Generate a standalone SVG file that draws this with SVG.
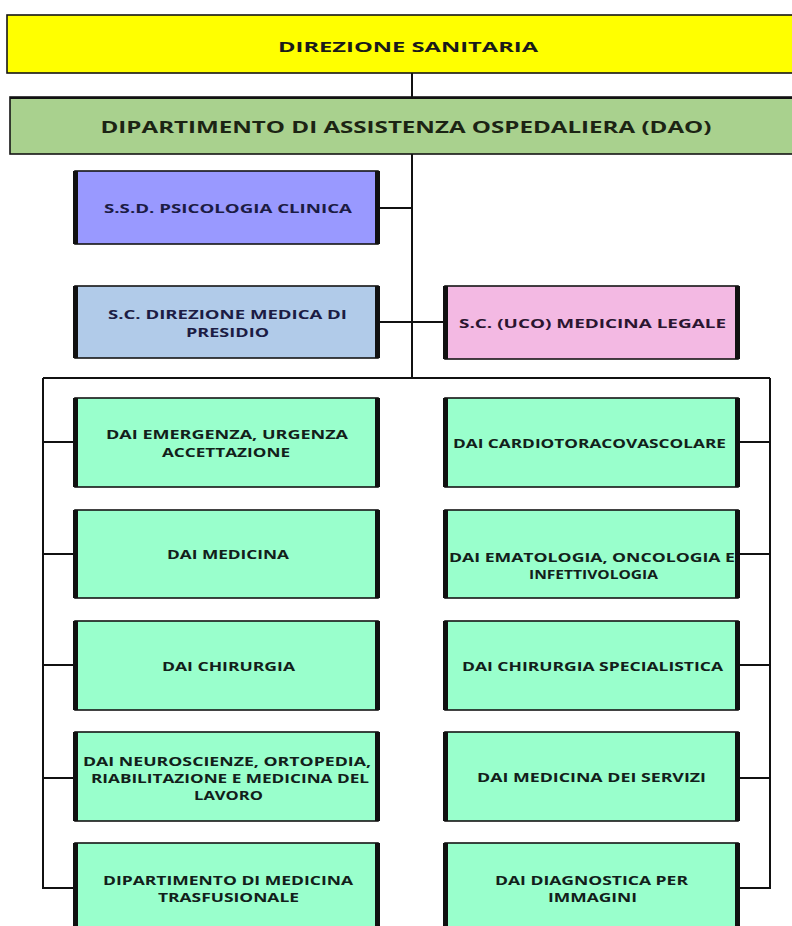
<svg xmlns="http://www.w3.org/2000/svg" width="792" height="926" viewBox="0 0 792 926">
<style>
.bx{stroke:#151515;stroke-width:1.6}
.sd{stroke:#111;stroke-width:5;fill:none}
.cn{stroke:#111;stroke-width:2;fill:none}
text{font-family:"Open Sans","Liberation Sans",sans-serif;font-weight:700;text-anchor:middle;fill:#12201a}
.t{font-size:13px}
.tl{font-size:14.5px;fill:#1a1a1a}
.tx{font-size:15.5px;fill:#1c2414}
.nv{fill:#1c1c44}
.gr{fill:#99ffcc}
</style>
<rect width="792" height="926" fill="#ffffff"/>
<g id="connectors">
<path class="cn" d="M412 73V97M412 154V379M380 208H412M380 322H445M43 378H770M43 378V889M770 378V889M43 442H74M43 554H74M43 665H74M43 778H74M43 888H74M739 442H770M739 554H770M739 665H770M739 778H770M739 888H770"/>
</g>
<g id="direzione-sanitaria">
<rect class="bx" x="7" y="15" width="800" height="58" fill="#ffff00"/>
<text class="tl" x="408" y="52" textLength="260" lengthAdjust="spacingAndGlyphs">DIREZIONE SANITARIA</text>
</g>
<g id="dao">
<rect class="bx" x="10" y="97" width="800" height="57" fill="#a9d18e"/>
<path class="cn" d="M10 98H792" stroke-width="3"/>
<text class="tx" x="406" y="133" textLength="611" lengthAdjust="spacingAndGlyphs">DIPARTIMENTO DI ASSISTENZA OSPEDALIERA (DAO)</text>
</g>
<g id="psicologia">
<rect class="bx" x="75" y="171" width="303" height="73" fill="#9999ff"/>
<path class="sd" d="M75.5 171V244M377.5 171V244"/>
<text class="t nv" x="228" y="213" textLength="248" lengthAdjust="spacingAndGlyphs">S.S.D. PSICOLOGIA CLINICA</text>
</g>
<g id="direzione-medica">
<rect class="bx" x="75" y="286" width="303" height="72" fill="#b1cbe9"/>
<path class="sd" d="M75.5 286V358M377.5 286V358"/>
<text class="t nv" x="227.5" y="319" textLength="239" lengthAdjust="spacingAndGlyphs">S.C. DIREZIONE MEDICA DI</text>
<text class="t nv" x="227.5" y="337" textLength="83" lengthAdjust="spacingAndGlyphs">PRESIDIO</text>
</g>
<g id="medicina-legale">
<rect class="bx" x="445" y="286" width="293" height="73" fill="#f3b9e3"/>
<path class="sd" d="M445.5 286V359M737.5 286V359"/>
<text class="t" x="592.5" y="328" textLength="267" lengthAdjust="spacingAndGlyphs" style="fill:#2a1530">S.C. (UCO) MEDICINA LEGALE</text>
</g>
<g id="dai-emergenza">
<rect class="bx gr" x="75" y="398" width="303" height="89"/>
<path class="sd" d="M75.5 398V487M377.5 398V487"/>
<text class="t" x="227" y="439" textLength="242" lengthAdjust="spacingAndGlyphs">DAI EMERGENZA, URGENZA</text>
<text class="t" x="226" y="457" textLength="128" lengthAdjust="spacingAndGlyphs">ACCETTAZIONE</text>
</g>
<g id="dai-medicina">
<rect class="bx gr" x="75" y="510" width="303" height="88"/>
<path class="sd" d="M75.5 510V598M377.5 510V598"/>
<text class="t" x="228" y="559" textLength="122" lengthAdjust="spacingAndGlyphs">DAI MEDICINA</text>
</g>
<g id="dai-chirurgia">
<rect class="bx gr" x="75" y="621" width="303" height="89"/>
<path class="sd" d="M75.5 621V710M377.5 621V710"/>
<text class="t" x="228.5" y="671" textLength="133" lengthAdjust="spacingAndGlyphs">DAI CHIRURGIA</text>
</g>
<g id="dai-neuroscienze">
<rect class="bx gr" x="75" y="732" width="303" height="89"/>
<path class="sd" d="M75.5 732V821M377.5 732V821"/>
<text class="t" x="227" y="766" textLength="288" lengthAdjust="spacingAndGlyphs">DAI NEUROSCIENZE, ORTOPEDIA,</text>
<text class="t" x="230" y="783" textLength="278" lengthAdjust="spacingAndGlyphs">RIABILITAZIONE E MEDICINA DEL</text>
<text class="t" x="228.5" y="800" textLength="69" lengthAdjust="spacingAndGlyphs">LAVORO</text>
</g>
<g id="dip-trasfusionale">
<rect class="bx gr" x="75" y="843" width="303" height="100"/>
<path class="sd" d="M75.5 843V943M377.5 843V943"/>
<text class="t" x="228" y="885" textLength="250" lengthAdjust="spacingAndGlyphs">DIPARTIMENTO DI MEDICINA</text>
<text class="t" x="228.5" y="902" textLength="141" lengthAdjust="spacingAndGlyphs">TRASFUSIONALE</text>
</g>
<g id="dai-cardiotoracovascolare">
<rect class="bx gr" x="445" y="398" width="293" height="89"/>
<path class="sd" d="M445.5 398V487M737.5 398V487"/>
<text class="t" x="589.5" y="448" textLength="273" lengthAdjust="spacingAndGlyphs">DAI CARDIOTORACOVASCOLARE</text>
</g>
<g id="dai-ematologia">
<rect class="bx gr" x="445" y="510" width="293" height="88"/>
<path class="sd" d="M445.5 510V598M737.5 510V598"/>
<text class="t" x="592" y="562" textLength="286" lengthAdjust="spacingAndGlyphs">DAI EMATOLOGIA, ONCOLOGIA E</text>
<text class="t" x="593.5" y="579" textLength="129" lengthAdjust="spacingAndGlyphs">INFETTIVOLOGIA</text>
</g>
<g id="dai-chirurgia-specialistica">
<rect class="bx gr" x="445" y="621" width="293" height="89"/>
<path class="sd" d="M445.5 621V710M737.5 621V710"/>
<text class="t" x="592.5" y="671" textLength="261" lengthAdjust="spacingAndGlyphs">DAI CHIRURGIA SPECIALISTICA</text>
</g>
<g id="dai-medicina-servizi">
<rect class="bx gr" x="445" y="732" width="293" height="89"/>
<path class="sd" d="M445.5 732V821M737.5 732V821"/>
<text class="t" x="591.5" y="782" textLength="229" lengthAdjust="spacingAndGlyphs">DAI MEDICINA DEI SERVIZI</text>
</g>
<g id="dai-diagnostica">
<rect class="bx gr" x="445" y="843" width="293" height="100"/>
<path class="sd" d="M445.5 843V943M737.5 843V943"/>
<text class="t" x="591.5" y="885" textLength="193" lengthAdjust="spacingAndGlyphs">DAI DIAGNOSTICA PER</text>
<text class="t" x="592.5" y="902" textLength="89" lengthAdjust="spacingAndGlyphs">IMMAGINI</text>
</g>
</svg>
